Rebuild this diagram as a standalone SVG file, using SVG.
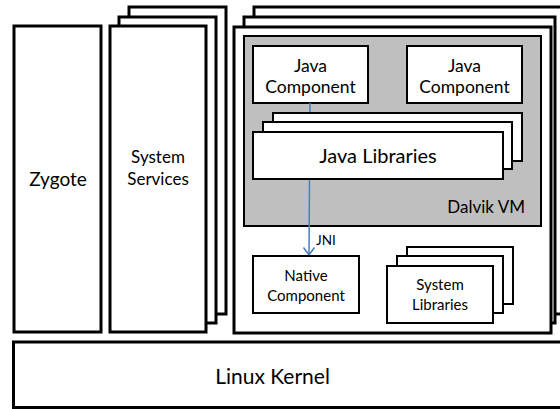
<svg xmlns="http://www.w3.org/2000/svg" width="560" height="409" viewBox="0 0 560 409">
<style>
.big{fill:#fff;stroke:#000;stroke-width:3}
.sm{fill:#fff;stroke:#000;stroke-width:2}
.vm{fill:#bfbfbf;stroke:#000;stroke-width:2}
text{font-family:Lato,"Open Sans","Liberation Sans",sans-serif;fill:#000;text-anchor:middle}
.conn{stroke:#4a7ebb;stroke-width:1.5;fill:none}
</style>
<rect width="560" height="409" fill="#fff"/>
<g id="zygote">
<rect class="big" x="14" y="26" width="87" height="306"/>
<text x="58" y="185.5" font-size="19">Zygote</text>
</g>
<g id="system-services">
<rect class="big" x="129" y="7" width="97" height="307"/>
<rect class="big" x="119" y="17" width="97" height="306"/>
<rect class="big" x="110" y="26" width="96" height="306"/>
<text x="158" y="163" font-size="17">System</text>
<text x="158" y="185" font-size="17">Services</text>
</g>
<g id="process">
<rect class="big" x="254" y="7" width="310" height="307"/>
<rect class="big" x="244" y="17" width="311" height="306"/>
<rect class="big" x="234" y="27" width="317" height="306"/>
</g>
<g id="dalvik-vm">
<rect class="vm" x="244" y="36" width="297" height="190"/>
<text x="525" y="212.5" font-size="17" style="text-anchor:end">Dalvik VM</text>
</g>
<g id="java-component-1">
<rect class="sm" x="253" y="46" width="115" height="57"/>
<text x="310.5" y="71.5" font-size="17.5">Java</text>
<text x="310.5" y="92.5" font-size="17.5">Component</text>
</g>
<g id="java-component-2">
<rect class="sm" x="407" y="46" width="115" height="57"/>
<text x="464.5" y="71.5" font-size="17.5">Java</text>
<text x="464.5" y="92.5" font-size="17.5">Component</text>
</g>
<g id="connectors">
<line class="conn" x1="310" y1="103" x2="309" y2="255"/>
<polyline class="conn" points="303.5,247.5 309,255 314.5,247.5"/>
<text x="316" y="245" font-size="13.5" style="text-anchor:start">JNI</text>
</g>
<g id="java-libraries">
<rect class="sm" x="273" y="113" width="249" height="48"/>
<rect class="sm" x="263" y="122" width="249" height="47"/>
<rect class="sm" x="253" y="132" width="250" height="47"/>
<text x="378" y="163" font-size="20">Java Libraries</text>
</g>
<g id="native-component">
<rect class="sm" x="253" y="256" width="106" height="57"/>
<text x="306" y="281" font-size="15">Native</text>
<text x="306" y="301" font-size="15">Component</text>
</g>
<g id="system-libraries">
<rect class="sm" x="407" y="247" width="106" height="57"/>
<rect class="sm" x="397" y="256" width="106" height="57"/>
<rect class="sm" x="387" y="266" width="106" height="57"/>
<text x="440" y="290" font-size="15">System</text>
<text x="440" y="310" font-size="15">Libraries</text>
</g>
<g id="linux-kernel">
<rect class="big" x="13.5" y="342" width="560" height="65.5"/>
<text x="272.5" y="384" font-size="21">Linux Kernel</text>
</g>
</svg>
